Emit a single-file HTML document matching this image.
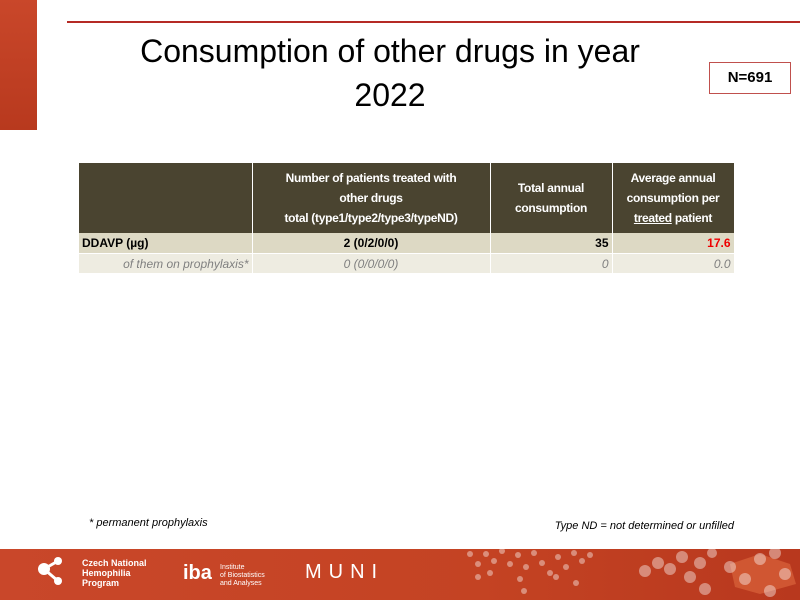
<!DOCTYPE html>
<html><head><meta charset="utf-8"><style>
body{margin:0;width:800px;height:600px;position:relative;overflow:hidden;background:#fff;font-family:"Liberation Sans",sans-serif;}
.lb{position:absolute;left:0;top:0;width:37px;height:130px;background:linear-gradient(#c9472a,#b8391e);}
.rl{position:absolute;left:67px;top:21px;width:733px;height:2px;background:#b52a25;}
.title{position:absolute;left:80px;width:620px;top:29px;text-align:center;font-size:32px;line-height:44px;color:#000;}
.n{position:absolute;left:709px;top:62px;width:80px;height:30px;border:1px solid #c0504d;text-align:center;line-height:30px;font-weight:bold;font-size:15px;}
table{position:absolute;left:79px;top:163px;border-collapse:collapse;font-size:12px;table-layout:fixed;width:655px;}
td{padding:0 3px;border-right:1px solid #fff;overflow:hidden;white-space:nowrap;}
.h td{background:#4a4430;color:#fff;font-weight:bold;text-align:center;height:70px;line-height:20px;white-space:normal;letter-spacing:-0.3px;}
.r1 td{background:#ddd9c4;height:20px;font-weight:bold;border-bottom:1px solid #fff;}
.r2 td{background:#eeece1;height:19px;font-style:italic;color:#808080;}
.f1{position:absolute;left:89px;top:517px;font-size:11px;font-style:italic;}
.f2{position:absolute;right:66px;top:520px;font-size:11px;font-style:italic;}
.foot{position:absolute;left:0;top:549px;width:800px;height:51px;background:linear-gradient(90deg,#c9472a,#c44323 60%,#b8381e);color:#fff;}
</style></head><body>
<div class="lb"></div><div class="rl"></div>
<div class="title">Consumption of other drugs in year<br>2022</div>
<div class="n">N=691</div>
<table>
<colgroup><col style="width:173px"><col style="width:238px"><col style="width:122px"><col style="width:122px"></colgroup>
<tr class="h"><td></td><td>Number of patients treated with<br>other drugs<br>total (type1/type2/type3/typeND)</td><td>Total annual consumption</td><td>Average annual consumption per <u>treated</u> patient</td></tr>
<tr class="r1"><td>DDAVP (µg)</td><td style="text-align:center">2 (0/2/0/0)</td><td style="text-align:right">35</td><td style="text-align:right;color:#e00">17.6</td></tr>
<tr class="r2"><td style="text-align:right">of them on prophylaxis*</td><td style="text-align:center">0 (0/0/0/0)</td><td style="text-align:right">0</td><td style="text-align:right">0.0</td></tr>
</table>
<div class="f1">* permanent prophylaxis</div>
<div class="f2">Type ND = not determined or unfilled</div>
<div class="foot">
<svg width="800" height="51" style="position:absolute;left:0;top:0">
<g fill="#fff"><circle cx="44" cy="20" r="6"/><circle cx="58" cy="12" r="4"/><circle cx="58" cy="32" r="4"/><path d="M44 20L58 12M44 20L58 32" stroke="#fff" stroke-width="3"/></g>
<path d="M730 15 L760 5 L790 15 L796 35 L760 45 L735 38 Z" fill="#e06a40" opacity="0.6"/>
<g fill="#fff" opacity="0.4"><circle cx="470" cy="5" r="3"/><circle cx="478" cy="15" r="3"/><circle cx="486" cy="5" r="3"/><circle cx="494" cy="12" r="3"/><circle cx="502" cy="2" r="3"/><circle cx="510" cy="15" r="3"/><circle cx="518" cy="6" r="3"/><circle cx="526" cy="18" r="3"/><circle cx="534" cy="4" r="3"/><circle cx="542" cy="14" r="3"/><circle cx="550" cy="24" r="3"/><circle cx="558" cy="8" r="3"/><circle cx="566" cy="18" r="3"/><circle cx="574" cy="4" r="3"/><circle cx="582" cy="12" r="3"/><circle cx="590" cy="6" r="3"/><circle cx="478" cy="28" r="3"/><circle cx="490" cy="24" r="3"/><circle cx="520" cy="30" r="3"/><circle cx="524" cy="42" r="3"/><circle cx="556" cy="28" r="3"/><circle cx="576" cy="34" r="3"/>
<circle cx="645" cy="22" r="6"/><circle cx="658" cy="14" r="6"/><circle cx="670" cy="20" r="6"/><circle cx="682" cy="8" r="6"/><circle cx="690" cy="28" r="6"/><circle cx="700" cy="14" r="6"/><circle cx="712" cy="4" r="5"/><circle cx="705" cy="40" r="6"/><circle cx="730" cy="18" r="6"/><circle cx="745" cy="30" r="6"/><circle cx="760" cy="10" r="6"/><circle cx="775" cy="4" r="6"/><circle cx="785" cy="25" r="6"/><circle cx="770" cy="42" r="6"/></g>
</svg>
<div style="position:absolute;left:82px;top:9px;font-size:9px;line-height:10px;font-weight:bold">Czech National<br>Hemophilia<br>Program</div>
<div style="position:absolute;left:183px;top:13px;font-size:20px;font-weight:bold">iba</div>
<div style="position:absolute;left:220px;top:15px;font-size:7px;line-height:8px">Institute<br>of Biostatistics<br>and Analyses</div>
<div style="position:absolute;left:305px;top:12px;font-size:20px;letter-spacing:7px">MUNI</div>
</div>
</body></html>
